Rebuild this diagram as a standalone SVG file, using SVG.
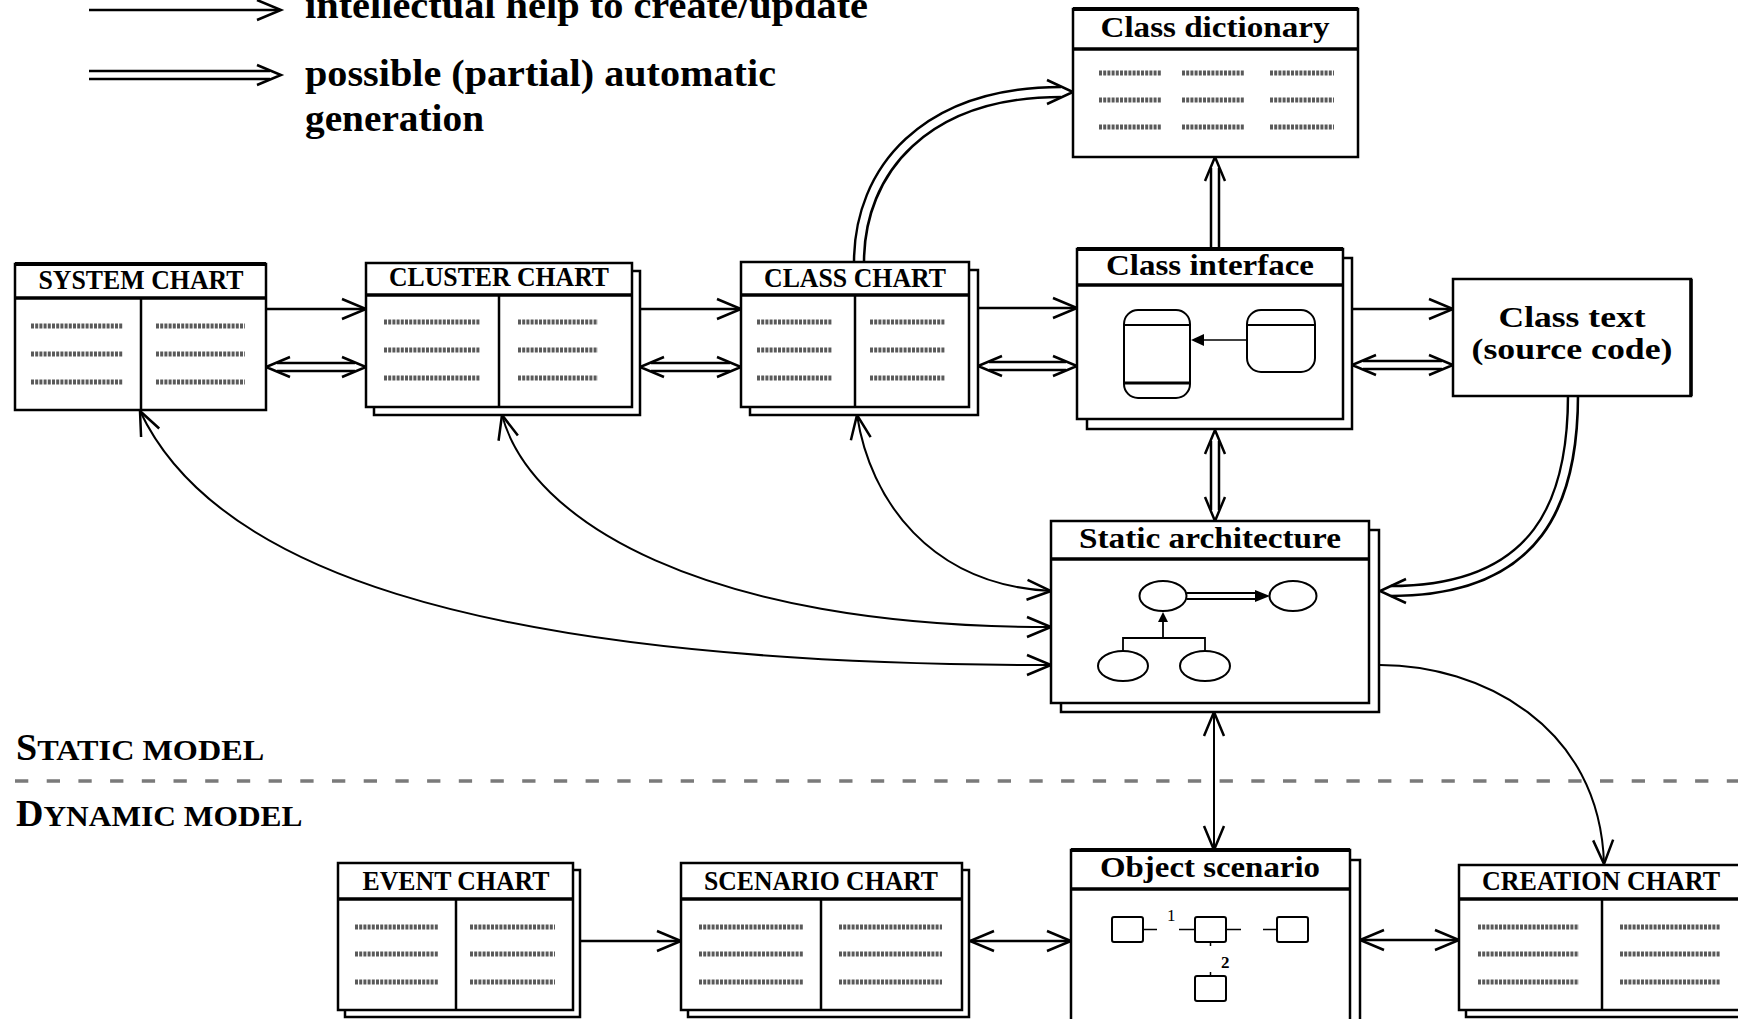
<svg xmlns="http://www.w3.org/2000/svg" xmlns:xlink="http://www.w3.org/1999/xlink" width="1738" height="1019" viewBox="0 0 1738 1019">
<style>
.box{fill:#fff;stroke:#000;stroke-width:2.5}
.top{stroke:#000;stroke-width:4}
.hdr{stroke:#000;stroke-width:3.5}
.div{stroke:#000;stroke-width:2.5}
.sq{fill:none;stroke:#5a5a5a;stroke-width:5;stroke-dasharray:3 1.2}
.tc{font-family:"Liberation Serif","Times New Roman",serif;font-weight:bold;font-size:27px;text-anchor:middle;fill:#000}
.tm{font-family:"Liberation Serif","Times New Roman",serif;font-weight:bold;font-size:30px;text-anchor:middle;fill:#000}
.lg{font-family:"Liberation Serif","Times New Roman",serif;font-weight:bold;font-size:37px;fill:#000}
.sc{font-family:"Liberation Serif","Times New Roman",serif;font-weight:bold;fill:#000}
.ln{fill:none;stroke:#000;stroke-width:2.5}
.cv{fill:none;stroke:#000;stroke-width:2}
.dbo{fill:none;stroke:#000;stroke-width:10.5}
.dbi{fill:none;stroke:#fff;stroke-width:5.5}
.dbo2{fill:none;stroke:#000;stroke-width:12.5}
.dbi2{fill:none;stroke:#fff;stroke-width:7.5}
.dash{stroke:#7a7a7a;stroke-width:3.5;stroke-dasharray:13.3 18.4}
</style>
<defs>
<path id="ch" d="M-24,-10 L0,0 L-24,10" fill="none" stroke="#000" stroke-width="2.5" stroke-linejoin="miter"/>
<path id="chb" d="M-26,-12 L0,0 L-26,12" fill="none" stroke="#000" stroke-width="2.5" stroke-linejoin="miter"/>
</defs>
<rect x="0" y="0" width="1738" height="1019" fill="#fff"/>

<g id="legend">
<line class="ln" x1="89" y1="10" x2="280" y2="10"/>
<use xlink:href="#ch" href="#ch" transform="translate(281,10)"/>
<line class="dbo" x1="89" y1="75" x2="270" y2="75"/>
<line class="dbi" x1="88" y1="75" x2="271" y2="75"/>
<use xlink:href="#ch" href="#ch" transform="translate(281,75)"/>
<text class="lg" x="305" y="18" textLength="563" lengthAdjust="spacingAndGlyphs">intellectual help to create/update</text>
<text class="lg" x="305" y="86" textLength="471" lengthAdjust="spacingAndGlyphs">possible (partial) automatic</text>
<text class="lg" x="305" y="131" textLength="179" lengthAdjust="spacingAndGlyphs">generation</text>
</g>

<g id="model-labels">
<text class="sc" x="16" y="760"><tspan font-size="38">S</tspan><tspan font-size="29" textLength="227" lengthAdjust="spacingAndGlyphs">TATIC MODEL</tspan></text>
<line class="dash" x1="15" y1="781" x2="1738" y2="781"/>
<text class="sc" x="16" y="826"><tspan font-size="38">D</tspan><tspan font-size="29" textLength="259" lengthAdjust="spacingAndGlyphs">YNAMIC MODEL</tspan></text>
</g>

<g id="connectors">
<line class="ln" x1="266" y1="309" x2="366" y2="309"/>
<use href="#ch" xlink:href="#ch" transform="translate(366,309)"/>
<line class="dbo" x1="277" y1="367" x2="355" y2="367"/>
<line class="dbi" x1="276" y1="367" x2="356" y2="367"/>
<use href="#ch" xlink:href="#ch" transform="translate(266,367) rotate(180)"/>
<use href="#ch" xlink:href="#ch" transform="translate(366,367)"/>
<line class="ln" x1="640" y1="309" x2="741" y2="309"/>
<use href="#ch" xlink:href="#ch" transform="translate(741,309)"/>
<line class="dbo" x1="651" y1="367" x2="730" y2="367"/>
<line class="dbi" x1="650" y1="367" x2="731" y2="367"/>
<use href="#ch" xlink:href="#ch" transform="translate(640,367) rotate(180)"/>
<use href="#ch" xlink:href="#ch" transform="translate(741,367)"/>
<line class="ln" x1="978" y1="308" x2="1077" y2="308"/>
<use href="#ch" xlink:href="#ch" transform="translate(1077,308)"/>
<line class="dbo" x1="989" y1="366" x2="1066" y2="366"/>
<line class="dbi" x1="988" y1="366" x2="1067" y2="366"/>
<use href="#ch" xlink:href="#ch" transform="translate(978,366) rotate(180)"/>
<use href="#ch" xlink:href="#ch" transform="translate(1077,366)"/>
<line class="ln" x1="1352" y1="309" x2="1453" y2="309"/>
<use href="#ch" xlink:href="#ch" transform="translate(1453,309)"/>
<line class="dbo" x1="1363" y1="365" x2="1442" y2="365"/>
<line class="dbi" x1="1362" y1="365" x2="1443" y2="365"/>
<use href="#ch" xlink:href="#ch" transform="translate(1352,365) rotate(180)"/>
<use href="#ch" xlink:href="#ch" transform="translate(1453,365)"/>
<line class="dbo" x1="1215" y1="249" x2="1215" y2="168"/>
<line class="dbi" x1="1215" y1="247" x2="1215" y2="167"/>
<use href="#ch" xlink:href="#ch" transform="translate(1215,157) rotate(-90)"/>
<path class="dbo2" d="M859,263 C859,170 925,92 1061,92"/>
<path class="dbi2" d="M859,262 C859,170 925,92 1062,92"/>
<use href="#chb" xlink:href="#chb" transform="translate(1073,92)"/>
<path class="dbo2" d="M1573,396 C1573,500 1540,591 1391,591"/>
<path class="dbi2" d="M1573,394 C1573,500 1540,591 1390,591"/>
<use href="#chb" xlink:href="#chb" transform="translate(1380,591) rotate(180)"/>
<line class="dbo" x1="1215" y1="441" x2="1215" y2="510"/>
<line class="dbi" x1="1215" y1="440" x2="1215" y2="511"/>
<use href="#ch" xlink:href="#ch" transform="translate(1215,430) rotate(-90)"/>
<use href="#ch" xlink:href="#ch" transform="translate(1215,521) rotate(90)"/>
<path class="cv" d="M140,411 C210,560 450,665 1051,665"/>
<use href="#ch" xlink:href="#ch" transform="translate(140,411) rotate(-115)"/>
<use href="#ch" xlink:href="#ch" transform="translate(1051,665)"/>
<path class="cv" d="M502,415 C530,520 700,627 1051,627"/>
<use href="#ch" xlink:href="#ch" transform="translate(502,415) rotate(-105)"/>
<use href="#ch" xlink:href="#ch" transform="translate(1051,627)"/>
<path class="cv" d="M857,415 C870,500 930,585 1051,591"/>
<use href="#ch" xlink:href="#ch" transform="translate(857,415) rotate(-99)"/>
<use href="#ch" xlink:href="#ch" transform="translate(1051,591) rotate(3)"/>
<path class="cv" d="M1380,665 C1480,665 1600,725 1604,864"/>
<use href="#ch" xlink:href="#ch" transform="translate(1604,864) rotate(88)"/>
<line class="cv" x1="1214" y1="712" x2="1214" y2="850"/>
<use href="#ch" xlink:href="#ch" transform="translate(1214,712) rotate(-90)"/>
<use href="#ch" xlink:href="#ch" transform="translate(1214,850) rotate(90)"/>
<line class="ln" x1="573" y1="941" x2="681" y2="941"/>
<use href="#ch" xlink:href="#ch" transform="translate(681,941)"/>
<line class="ln" x1="970" y1="941" x2="1071" y2="941"/>
<use href="#ch" xlink:href="#ch" transform="translate(970,941) rotate(180)"/>
<use href="#ch" xlink:href="#ch" transform="translate(1071,941)"/>
<line class="ln" x1="1360" y1="940" x2="1459" y2="940"/>
<use href="#ch" xlink:href="#ch" transform="translate(1360,940) rotate(180)"/>
<use href="#ch" xlink:href="#ch" transform="translate(1459,940)"/>
</g>

<g id="system-chart">
<rect class="box" x="15" y="264" width="251" height="146"/>
<line class="top" x1="15" y1="264" x2="266" y2="264"/>
<line class="hdr" x1="15" y1="298" x2="266" y2="298"/>
<line class="div" x1="141" y1="298" x2="141" y2="410"/>
<text class="tc" x="141" y="289" textLength="205" lengthAdjust="spacingAndGlyphs">SYSTEM CHART</text>
<path class="sq" d="M31,326h92M31,354h92M31,382h92M156,326h89M156,354h89M156,382h89"/>
</g>

<g id="cluster-chart">
<rect class="box" x="374" y="271" width="266" height="144"/>
<rect class="box" x="366" y="263" width="266" height="144"/>
<line class="hdr" x1="366" y1="295" x2="632" y2="295"/>
<line class="div" x1="499" y1="295" x2="499" y2="407"/>
<text class="tc" x="499" y="286" textLength="220" lengthAdjust="spacingAndGlyphs">CLUSTER CHART</text>
<path class="sq" d="M384,322h96M384,350h96M384,378h96M518,322h80M518,350h80M518,378h80"/>
</g>

<g id="class-chart">
<rect class="box" x="750" y="270" width="228" height="145"/>
<rect class="box" x="741" y="262" width="228" height="145"/>
<line class="hdr" x1="741" y1="295" x2="969" y2="295"/>
<line class="div" x1="855" y1="295" x2="855" y2="407"/>
<text class="tc" x="855" y="287" textLength="182" lengthAdjust="spacingAndGlyphs">CLASS CHART</text>
<path class="sq" d="M757,322h75M757,350h75M757,378h75M870,322h75M870,350h75M870,378h75"/>
</g>

<g id="class-dictionary">
<rect class="box" x="1073" y="9" width="285" height="148"/>
<line class="top" x1="1073" y1="9" x2="1358" y2="9"/>
<line class="hdr" x1="1073" y1="49" x2="1358" y2="49"/>
<text class="tm" x="1215" y="37" textLength="229" lengthAdjust="spacingAndGlyphs">Class dictionary</text>
<path class="sq" d="M1099,73h63M1099,100h63M1099,127h63M1182,73h63M1182,100h63M1182,127h63M1270,73h64M1270,100h64M1270,127h64"/>
</g>

<g id="class-interface">
<rect class="box" x="1087" y="258" width="265" height="171"/>
<rect class="box" x="1077" y="249" width="266" height="170"/>
<line class="top" x1="1077" y1="249" x2="1343" y2="249"/>
<line class="hdr" x1="1077" y1="285" x2="1343" y2="285"/>
<text class="tm" x="1210" y="275" textLength="208" lengthAdjust="spacingAndGlyphs">Class interface</text>
<rect x="1124" y="310" width="66" height="88" rx="14" fill="#fff" stroke="#000" stroke-width="2"/>
<line x1="1124" y1="325" x2="1190" y2="325" stroke="#000" stroke-width="2"/>
<line x1="1124" y1="383" x2="1190" y2="383" stroke="#000" stroke-width="3"/>
<rect x="1247" y="310" width="68" height="62" rx="14" fill="#fff" stroke="#000" stroke-width="2"/>
<line x1="1247" y1="325" x2="1315" y2="325" stroke="#000" stroke-width="2"/>
<line x1="1247" y1="340" x2="1200" y2="340" stroke="#000" stroke-width="1.5"/>
<path d="M1191,340 L1204,334 L1204,346 Z" fill="#000"/>
</g>

<g id="class-text">
<rect class="box" x="1453" y="279" width="238" height="117"/>
<line x1="1691" y1="279" x2="1691" y2="396" stroke="#000" stroke-width="3.5"/>
<text class="tm" x="1572" y="327" font-size="33" textLength="147" lengthAdjust="spacingAndGlyphs">Class text</text>
<text class="tm" x="1572" y="359" font-size="33" textLength="201" lengthAdjust="spacingAndGlyphs">(source code)</text>
</g>

<g id="static-architecture">
<rect class="box" x="1061" y="530" width="318" height="182"/>
<rect class="box" x="1051" y="521" width="318" height="182"/>
<line class="hdr" x1="1051" y1="559" x2="1369" y2="559"/>
<text class="tm" x="1210" y="548" textLength="262" lengthAdjust="spacingAndGlyphs">Static architecture</text>
<ellipse cx="1163" cy="596" rx="23.5" ry="15" fill="#fff" stroke="#000" stroke-width="2"/>
<ellipse cx="1293" cy="596" rx="23.5" ry="15" fill="#fff" stroke="#000" stroke-width="2"/>
<line x1="1186.5" y1="593" x2="1258" y2="593" stroke="#000" stroke-width="1.8"/>
<line x1="1186.5" y1="599" x2="1258" y2="599" stroke="#000" stroke-width="1.8"/>
<path d="M1270,596 L1255,590 L1255,602 Z" fill="#000"/>
<line x1="1163" y1="621" x2="1163" y2="638" stroke="#000" stroke-width="1.8"/>
<path d="M1163,612 L1158,622 L1168,622 Z" fill="#000"/>
<path d="M1123,651 V638 H1205 V651" fill="none" stroke="#000" stroke-width="1.8"/>
<ellipse cx="1123" cy="666" rx="25" ry="15" fill="#fff" stroke="#000" stroke-width="2"/>
<ellipse cx="1205" cy="666" rx="25" ry="15" fill="#fff" stroke="#000" stroke-width="2"/>
</g>

<g id="event-chart">
<rect class="box" x="345" y="870" width="235" height="147"/>
<rect class="box" x="338" y="863" width="235" height="147"/>
<line class="hdr" x1="338" y1="899" x2="573" y2="899"/>
<line class="div" x1="456" y1="899" x2="456" y2="1010"/>
<text class="tc" x="456" y="890" textLength="187" lengthAdjust="spacingAndGlyphs">EVENT CHART</text>
<path class="sq" d="M355,927h83M355,954h83M355,982h83M470,927h85M470,954h85M470,982h85"/>
</g>

<g id="scenario-chart">
<rect class="box" x="688" y="870" width="281" height="147"/>
<rect class="box" x="681" y="863" width="281" height="147"/>
<line class="hdr" x1="681" y1="899" x2="962" y2="899"/>
<line class="div" x1="821" y1="899" x2="821" y2="1010"/>
<text class="tc" x="821" y="890" textLength="234" lengthAdjust="spacingAndGlyphs">SCENARIO CHART</text>
<path class="sq" d="M699,927h104M699,954h104M699,982h104M839,927h103M839,954h103M839,982h103"/>
</g>

<g id="object-scenario">
<rect class="box" x="1081" y="860" width="279" height="200"/>
<rect class="box" x="1071" y="850" width="279" height="200"/>
<line class="top" x1="1071" y1="850" x2="1350" y2="850"/>
<line class="hdr" x1="1071" y1="889" x2="1350" y2="889"/>
<text class="tm" x="1210" y="877" textLength="220" lengthAdjust="spacingAndGlyphs">Object scenario</text>
<rect x="1112" y="917" width="31" height="25" rx="2" fill="#fff" stroke="#000" stroke-width="2"/>
<rect x="1195" y="917" width="31" height="25" rx="2" fill="#fff" stroke="#000" stroke-width="2"/>
<rect x="1277" y="917" width="31" height="25" rx="2" fill="#fff" stroke="#000" stroke-width="2"/>
<rect x="1195" y="976" width="31" height="25" rx="2" fill="#fff" stroke="#000" stroke-width="2"/>
<path d="M1143,929.5h14M1179,929.5h16M1226,929.5h15M1263,929.5h14M1210.5,942v4M1210.5,972v4" fill="none" stroke="#000" stroke-width="1.5"/>
<text x="1167" y="921" font-family="Liberation Serif, serif" font-size="17" fill="#000">1</text>
<text x="1221" y="968" font-family="Liberation Serif, serif" font-weight="bold" font-size="17" fill="#000">2</text>
</g>

<g id="creation-chart">
<rect class="box" x="1466" y="872" width="300" height="145"/>
<rect class="box" x="1459" y="865" width="300" height="145"/>
<line class="hdr" x1="1459" y1="899" x2="1759" y2="899"/>
<line class="div" x1="1602" y1="899" x2="1602" y2="1010"/>
<text class="tc" x="1601" y="890" textLength="238" lengthAdjust="spacingAndGlyphs">CREATION CHART</text>
<path class="sq" d="M1478,927h101M1478,954h101M1478,982h101M1620,927h100M1620,954h100M1620,982h100"/>
</g>
</svg>
